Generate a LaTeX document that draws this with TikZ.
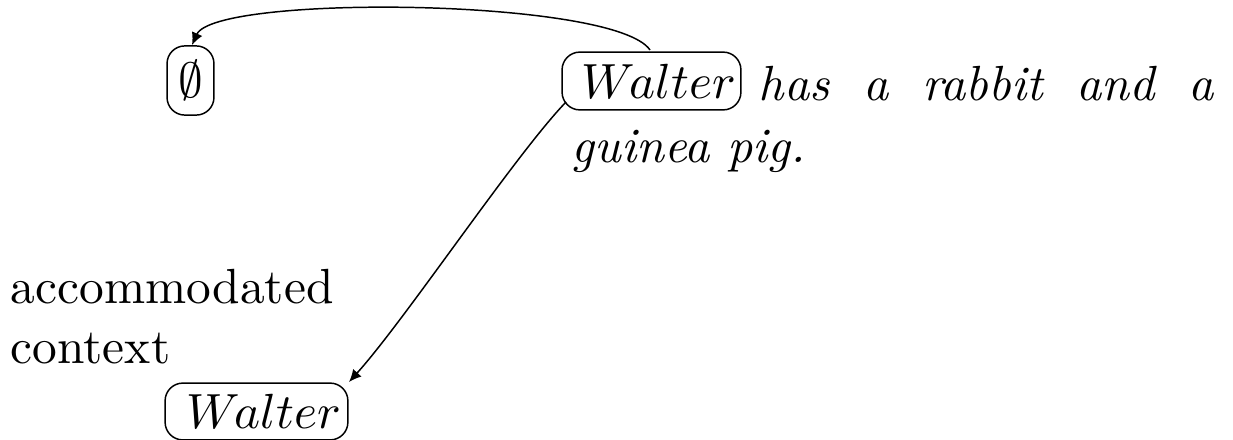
\documentclass[tikz,border=0pt]{standalone}
\usetikzlibrary{arrows.meta}
\begin{document}
\begin{tikzpicture}[x=0.2024pt,y=-0.2024pt,
  rbox/.style={draw,rounded corners=3.6pt,inner sep=0pt,line width=0.3pt},
  plain/.style={inner sep=0pt,anchor=base west},
  conn/.style={line width=0.3pt,-{Latex[length=2.5pt,width=2.3pt]}}]
\useasboundingbox (0,0) rectangle (1233,440);
\node[rbox,minimum width=9.5pt,minimum height=14pt] (e) at (190.5,80.5) {$\emptyset$};
\node[rbox,minimum width=36.2pt,minimum height=11.7pt] (w1) at (651.5,81) {\kern3pt$W\mkern-2mu alter$};
\node[rbox,minimum width=37pt,minimum height=11.5pt] (w2) at (256.5,411.5) {\kern3pt$W\mkern-2mu alter$};
\node[plain] (s1) at (758,100) {\hbox to 92pt{\itshape has\hfill a\hfill rabbit\hfill and\hfill a}};
\node[plain] (s2) at (571,162) {\textit{guinea pig.}};
\node[plain] (a1) at (10,303) {accommodated};
\node[plain] (a2) at (10,363) {context};
\coordinate (p1) at (650,50);
\coordinate (p2) at (192,45);
\draw[conn] (p1) .. controls (615,-2) and (215,-6) .. (p2);
\coordinate (q1) at (566,102);
\coordinate (q2) at (349,382);
\draw[conn] (q1) .. controls (515,155) and (405,320) .. (q2);
\end{tikzpicture}
\end{document}
